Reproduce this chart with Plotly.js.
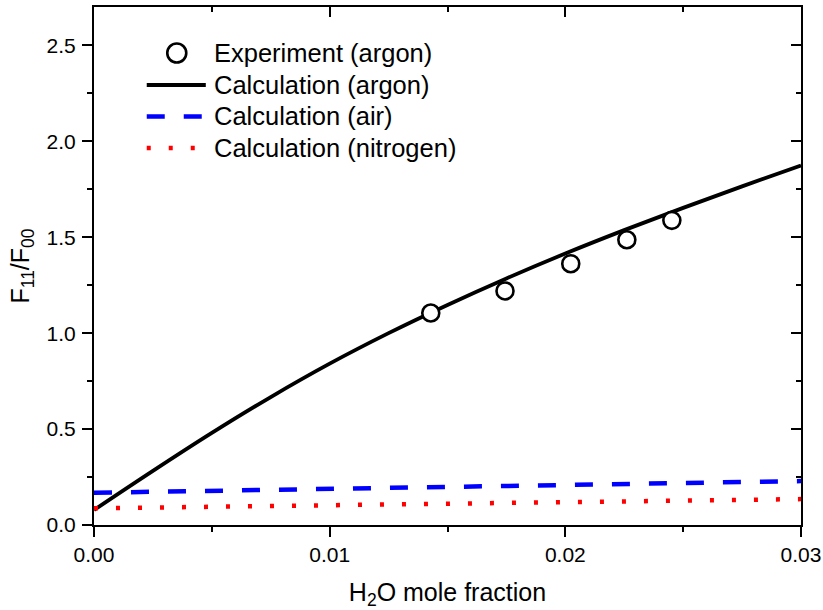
<!DOCTYPE html>
<html>
<head>
<meta charset="utf-8">
<script src="https://cdn.plot.ly/plotly-3.0.1.min.js"></script>
<style>html,body{margin:0;padding:0;background:#fff}#chart{width:823px;height:610px}</style>
</head>
<body>
<div id="chart"></div>
<script>
// Experiment (argon)
const expX = [0.01429, 0.01744, 0.02023, 0.02261, 0.02452];
const expY = [1.105, 1.220, 1.362, 1.487, 1.588];
// Calculation (argon)
const argonX = [0, 0.0025, 0.005, 0.0075, 0.01, 0.0125, 0.015, 0.0175, 0.02, 0.0225, 0.025, 0.0275, 0.03];
const argonY = [0.078, 0.282, 0.480, 0.667, 0.841, 1.000, 1.147, 1.285, 1.415, 1.537, 1.653, 1.765, 1.874];
// Calculation (air)
const airX = [0, 0.01, 0.02, 0.03];
const airY = [0.168, 0.189, 0.209, 0.229];
// Calculation (nitrogen)
const n2X = [0, 0.01, 0.02, 0.03];
const n2Y = [0.087, 0.103, 0.119, 0.135];
// Legend labels
const legendNames = ['Experiment (argon)', 'Calculation (argon)', 'Calculation (air)', 'Calculation (nitrogen)'];

const FONT = 'Liberation Sans, Arial, sans-serif';

const traces = [
  {x: argonX, y: argonY, mode: 'lines', name: legendNames[1], line: {color: '#000000', width: 3.8, shape: 'spline'}},
  {x: airX, y: airY, mode: 'lines', name: legendNames[2], line: {color: '#0000ff', width: 4.5, dash: '18px,19px'}},
  {x: n2X, y: n2Y, mode: 'lines', name: legendNames[3], line: {color: '#ff0000', width: 4.5, dash: '4px,18px'}},
  {x: expX, y: expY, mode: 'markers', name: legendNames[0],
   marker: {symbol: 'circle', size: 17, color: '#ffffff', line: {color: '#000000', width: 2.6}}},
  {x: [0], y: [0], xaxis: 'x2', yaxis: 'y2', mode: 'markers', marker: {opacity: 0}, showlegend: false, hoverinfo: 'skip'}
];

// Hand-drawn legend (positions in paper coordinates)
const rowPx = [53, 85, 116.5, 148];
const pyToPaper = py => (525 - py) / 518;
const pxToPaper = px => (px - 94.3) / 706.4;
const annotations = legendNames.map((t, i) => ({
  xref: 'paper', yref: 'paper', x: pxToPaper(212), y: pyToPaper(rowPx[i]),
  xanchor: 'left', yanchor: 'middle', showarrow: false, text: t,
  font: {family: FONT, size: 25.5, color: '#000'}
}));
const shapes = [
  {type: 'circle', xref: 'paper', yref: 'paper', x0: pxToPaper(167.5), x1: pxToPaper(186.5),
   y0: pyToPaper(rowPx[0] + 9.5), y1: pyToPaper(rowPx[0] - 9.5), line: {color: '#000', width: 2.6}, fillcolor: '#fff'},
  {type: 'line', xref: 'paper', yref: 'paper', x0: pxToPaper(147), x1: pxToPaper(206),
   y0: pyToPaper(rowPx[1]), y1: pyToPaper(rowPx[1]), line: {color: '#000', width: 3.8}},
  {type: 'line', xref: 'paper', yref: 'paper', x0: pxToPaper(147), x1: pxToPaper(206),
   y0: pyToPaper(rowPx[2]), y1: pyToPaper(rowPx[2]), line: {color: '#0000ff', width: 4.5, dash: '18px,19px'}},
  {type: 'line', xref: 'paper', yref: 'paper', x0: pxToPaper(147), x1: pxToPaper(206),
   y0: pyToPaper(rowPx[3]), y1: pyToPaper(rowPx[3]), line: {color: '#ff0000', width: 4.5, dash: '4px,18px'}}
];

const axCommon = {showgrid: false, zeroline: false, showline: true, linecolor: '#000', linewidth: 2,
  ticklen: 10, tickwidth: 2, tickcolor: '#000', tickfont: {family: FONT, size: 21, color: '#000'}};

const layout = {
  width: 823, height: 610,
  margin: {l: 94, r: 22, t: 7, b: 85},
  paper_bgcolor: '#fff', plot_bgcolor: '#fff',
  showlegend: false,
  hovermode: false,
  annotations: annotations,
  shapes: shapes,
  xaxis: Object.assign({}, axCommon, {range: [0, 0.03], dtick: 0.01, tick0: 0, tickformat: '.2f', ticks: 'outside',
    minor: {dtick: 0.005, ticks: 'outside', ticklen: 5, tickwidth: 2, tickcolor: '#000'},
    title: {text: 'H<sub>2</sub>O mole fraction', font: {family: FONT, size: 25, color: '#000'}, standoff: 18}}),
  yaxis: Object.assign({}, axCommon, {range: [0, 2.7], dtick: 0.5, tick0: 0, tickformat: '.1f', ticks: 'outside',
    ticklabelstandoff: 2,
    minor: {dtick: 0.25, ticks: 'outside', ticklen: 5, tickwidth: 2, tickcolor: '#000'},
    title: {text: 'F<sub>11</sub>/F<sub>00</sub>', font: {family: FONT, size: 25, color: '#000'}, standoff: 10}}),
  xaxis2: Object.assign({}, axCommon, {overlaying: 'x', side: 'top', range: [0, 0.03], dtick: 0.01, tick0: 0, ticks: 'inside',
    showticklabels: false, minor: {dtick: 0.005, ticks: 'inside', ticklen: 5, tickwidth: 2, tickcolor: '#000'}}),
  yaxis2: Object.assign({}, axCommon, {overlaying: 'y', side: 'right', range: [0, 2.7], dtick: 0.5, tick0: 0, ticks: 'inside',
    showticklabels: false, minor: {dtick: 0.25, ticks: 'inside', ticklen: 5, tickwidth: 2, tickcolor: '#000'}})
};

Plotly.newPlot('chart', traces, layout, {displayModeBar: false, staticPlot: true});
</script>
</body>
</html>
